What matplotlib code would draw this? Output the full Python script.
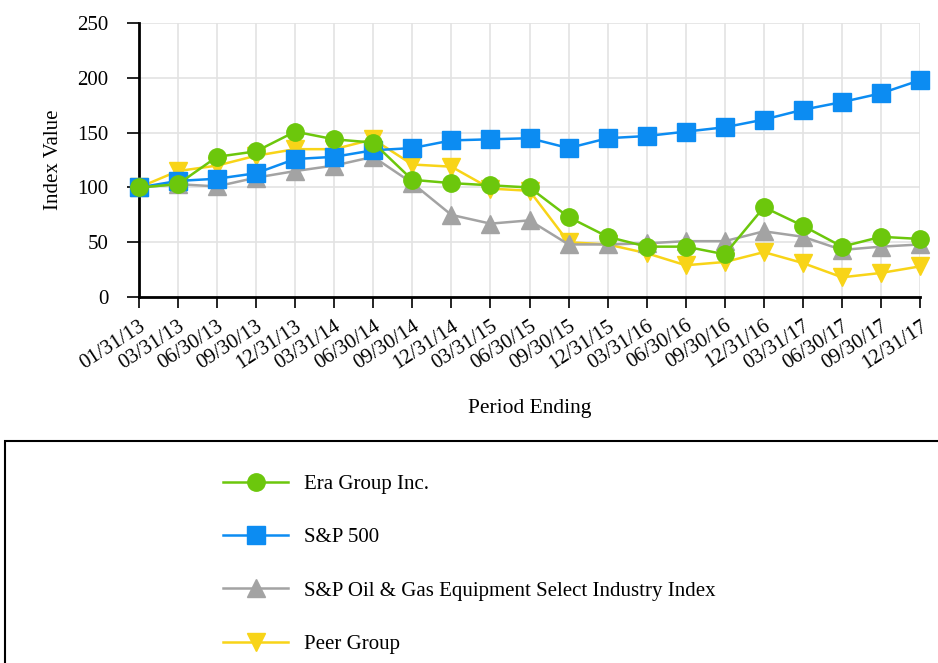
import matplotlib.pyplot as plt
from matplotlib.patches import Rectangle

plt.rcParams['font.family'] = ['Liberation Serif', 'DejaVu Serif']

# Periodos y valores del indice
periodos = ['01/31/13', '03/31/13', '06/30/13', '09/30/13', '12/31/13', '03/31/14',
            '06/30/14', '09/30/14', '12/31/14', '03/31/15', '06/30/15', '09/30/15',
            '12/31/15', '03/31/16', '06/30/16', '09/30/16', '12/31/16', '03/31/17',
            '06/30/17', '09/30/17', '12/31/17']

era = [100, 103, 128, 133, 151, 144, 141, 107, 104, 102, 100, 73, 55, 46, 46, 39,
       82, 65, 46, 55, 53]
sp500 = [100, 106, 108, 113, 126, 128, 134, 136, 143, 144, 145, 136, 145, 147, 151,
         155, 162, 171, 178, 186, 198]
oilgas = [100, 103, 101, 109, 115, 120, 128, 104, 75, 67, 70, 48, 48, 49, 51, 51,
          60, 55, 43, 46, 48]
peer = [100, 115, 120, 129, 135, 135, 144, 121, 119, 99, 97, 50, 48, 40, 29, 32,
        41, 31, 18, 22, 28]

series = [
    ('Era Group Inc.', era, '#6CC70C', 'o', 12.5),
    ('S&P 500', sp500, '#0C8CF2', 's', 13.5),
    ('S&P Oil & Gas Equipment Select Industry Index', oilgas, '#A3A3A3', '^', 12.5),
    ('Peer Group', peer, '#F8D418', 'v', 12.5),
]

fig = plt.figure(figsize=(9.38, 6.63), dpi=100)
ax = fig.add_axes([0.148, 0.552, 0.833, 0.413])

x = list(range(len(periodos)))
# se dibujan en orden inverso para que Era quede encima
for nombre, vals, color, mk, ms in reversed(series):
    ax.plot(x, vals, color=color, marker=mk, markersize=ms, linewidth=1.8,
            label=nombre, clip_on=False, zorder=3)

ax.set_xlim(0, len(periodos) - 1)
ax.set_ylim(0, 250)
ax.set_yticks([0, 50, 100, 150, 200, 250])
ax.set_xticks(x)
ax.set_xticklabels(periodos, rotation=33, ha='right', rotation_mode='anchor', fontsize=15)
ax.tick_params(axis='y', labelsize=15, length=9, width=1.2, pad=13)
ax.tick_params(axis='x', length=8, width=1.2, pad=6)
ax.grid(True, color='#E3E3E3', linewidth=1.2)
ax.set_axisbelow(True)
for lado in ['top', 'right']:
    ax.spines[lado].set_visible(False)
for lado in ['left', 'bottom']:
    ax.spines[lado].set_linewidth(2)

ax.set_ylabel('Index Value', fontsize=15, labelpad=10)
ax.set_xlabel('Period Ending', fontsize=15.5, labelpad=19)

# Caja de la leyenda
fig.add_artist(Rectangle((5 / 938, -0.05), 1.0, (663 - 441) / 663 + 0.05,
                         transform=fig.transFigure, fill=False,
                         edgecolor='black', linewidth=1.5))

handles, labels = ax.get_legend_handles_labels()
fig.legend(handles[::-1], labels[::-1], loc='upper left',
           bbox_to_anchor=(213 / 938, (663 - 464) / 663), frameon=False,
           fontsize=15, labelspacing=1.62, handlelength=3.1, handletextpad=0.75,
           borderpad=0, markerscale=1.0)

plt.savefig('out.png', dpi=100)
